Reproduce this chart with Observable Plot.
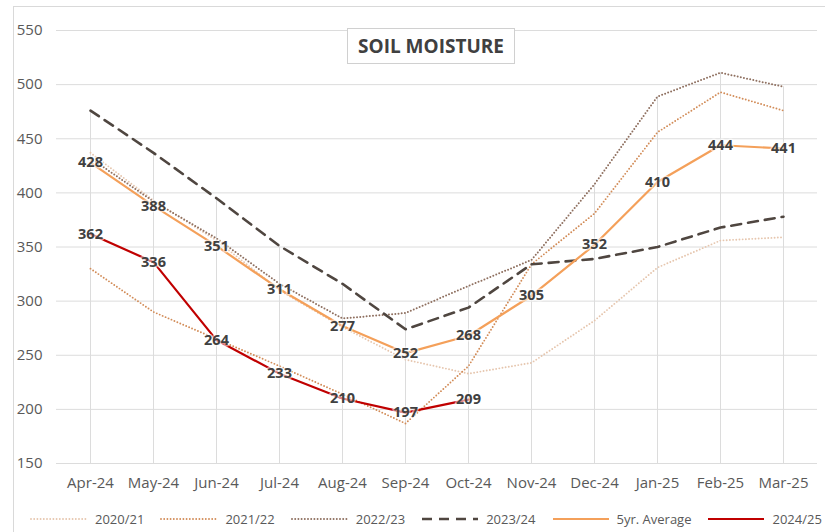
<!DOCTYPE html>
<html>
<head>
<meta charset="utf-8">
<script src="https://cdn.jsdelivr.net/npm/d3@7"></script>
<script src="https://cdn.jsdelivr.net/npm/@observablehq/plot@0.6"></script>
<style>
  body { margin: 0; background: #fff; }
  #wrap { position: relative; width: 825px; height: 532px; overflow: hidden; font-family: "Open Sans", sans-serif; background: #fff; }
  #frame { position: absolute; left: 13px; top: 6px; right: -5px; bottom: -5px; border-left: 1px solid #d9d9d9; border-top: 1px solid #d9d9d9; }
  #chart { position: absolute; left: 0; top: 0; }
  #title { position: absolute; left: 347px; top: 28px; width: 166px; height: 34px; border: 1px solid #d0d0d0; background: #fff;
           display: flex; align-items: center; justify-content: center; font-weight: 700; font-size: 19px; color: #404040; }
  #legend { position: absolute; left: 30px; top: 510px; width: 800px; height: 18px; display: flex; align-items: center;
            font-size: 13px; line-height: 18px; color: #595959; white-space: nowrap; }
  .item { display: flex; align-items: center; margin-right: 16px; flex: none; }
  .item svg { margin-right: 7px; display: block; }
</style>
</head>
<body>
<div id="wrap">
  <div id="frame"></div>
  <div id="chart"></div>
  <div id="title">SOIL MOISTURE</div>
  <div id="legend"></div>
</div>
<script>
// ---- data ----
const months = ["Apr-24","May-24","Jun-24","Jul-24","Aug-24","Sep-24","Oct-24","Nov-24","Dec-24","Jan-25","Feb-25","Mar-25"];
const s2020_21 = [437, 393, 356, 310, 276, 246, 233, 243, 282, 331, 356, 359];
const s2021_22 = [330, 290, 265, 240, 214, 187, 240, 334, 381, 456, 493, 476];
const s2022_23 = [432, 392, 358, 316, 284, 289, 314, 338, 408, 489, 511, 498];
const s2023_24 = [476, 437, 395, 351, 316, 274, 294, 334, 339, 350, 368, 378];
const avg5yr   = [428, 388, 351, 311, 277, 252, 268, 305, 352, 410, 444, 441];
const s2024_25 = [362, 336, 264, 233, 210, 197, 209];
const yTicks = [150, 200, 250, 300, 350, 400, 450, 500, 550];
const seriesNames = ["2020/21", "2021/22", "2022/23", "2023/24", "5yr. Average", "2024/25"];

// ---- build tables ----
const toRows = (vals) => vals.map((v, i) => ({month: months[i], value: v}));
const seriesVals = [s2020_21, s2021_22, s2022_23, s2023_24, avg5yr, s2024_25];
const styles = [
  {stroke: "#e6c6ae", strokeWidth: 1.9, strokeDasharray: "0,3.2", strokeLinecap: "round"},
  {stroke: "#d28c58", strokeWidth: 1.9, strokeDasharray: "0,3.2", strokeLinecap: "round"},
  {stroke: "#8f7060", strokeWidth: 2, strokeDasharray: "0,3.2", strokeLinecap: "round"},
  {stroke: "#4f4640", strokeWidth: 2.6, strokeDasharray: "10,7"},
  {stroke: "#f4a05a", strokeWidth: 2.2},
  {stroke: "#c00000", strokeWidth: 2.2}
];
const dropRows = months.map((m, i) => ({month: m, top: d3.max(seriesVals, s => s[i])}));

const lineMarks = seriesVals.map((vals, k) =>
  Plot.line(toRows(vals), {x: "month", y: "value", ...styles[k], strokeLinejoin: "round"}));

const labelOpts = {x: "month", y: "value", text: d => String(d.value), fontWeight: "bold", fontSize: 14.5,
  fill: "#404040", stroke: "white", strokeWidth: 3, strokeOpacity: 0.55};

const chart = Plot.plot({
  width: 825,
  height: 500,
  marginLeft: 56,
  marginRight: 8,
  marginTop: 30,
  marginBottom: 37,
  style: {fontFamily: "Open Sans", fontSize: "15px", background: "transparent", overflow: "visible"},
  x: {type: "point", domain: months, padding: 0.5, label: null},
  y: {domain: [150, 550], label: null},
  marks: [
    Plot.gridY(yTicks, {stroke: "#dcdcdc", strokeOpacity: 1, strokeWidth: 1}),
    Plot.ruleX(dropRows, {x: "month", y1: 150, y2: "top", stroke: "#dcdcdc", strokeWidth: 1}),
    Plot.axisY(yTicks, {tickSize: 0, tickPadding: 14, color: "#595959", fontSize: 15, label: null}),
    Plot.axisX(months, {tickSize: 0, tickPadding: 14, color: "#595959", fontSize: 15, label: null}),
    ...lineMarks,
    Plot.text(toRows(avg5yr), labelOpts),
    Plot.text(toRows(s2024_25), labelOpts)
  ]
});
document.getElementById("chart").appendChild(chart);

// ---- legend ----
const legend = document.getElementById("legend");
seriesNames.forEach((name, k) => {
  const st = styles[k];
  const item = document.createElement("div");
  item.className = "item";
  const dash = st.strokeDasharray ? `stroke-dasharray="${st.strokeDasharray}"` : "";
  const cap = st.strokeLinecap ? `stroke-linecap="${st.strokeLinecap}"` : "";
  item.innerHTML = `<svg width="58" height="10"><line x1="1" y1="5" x2="57" y2="5" stroke="${st.stroke}" stroke-width="${st.strokeWidth}" ${dash} ${cap}/></svg><span>${name}</span>`;
  legend.appendChild(item);
});
</script>
</body>
</html>
